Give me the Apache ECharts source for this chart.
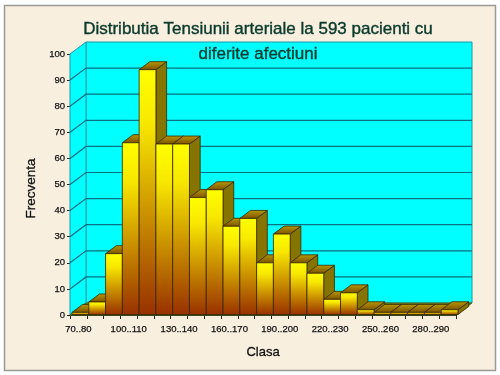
<!DOCTYPE html>
<html><head><meta charset="utf-8">
<style>html,body{margin:0;padding:0;background:#fff}#c{width:500px;height:375px}</style>
<script src="https://cdn.jsdelivr.net/npm/echarts@6/dist/echarts.min.js"></script>
</head><body><div id="c"></div>
<script>
const categories = ['70..80','80..90','90..100','100..110','110..120','120..130','130..140','140..150','150..160','160..170','170..180','180..190','190..200','200..210','210..220','220..230','230..240','240..250','250..260','260..270','270..280','280..290','290..300'];
const frequencies = [1,5,23.5,66,94,65.5,65.5,45,48,34,37,20,31,20,16,6,8.5,2,1,1,1,1,2];
const yTicks = [0,10,20,30,40,50,60,70,80,90,100];
const titleLines = 'Distributia Tensiunii arteriale la 593 pacienti cu\ndiferite afectiuni';

const WALL_DX = 16, WALL_DY = 12, BAR_DX = 10.7, BAR_DY = 8, BAR_SHIFT = 2;
const chart = echarts.init(document.getElementById('c'), null, {renderer:'canvas'});

function poly(points, style){ return {type:'polygon', shape:{points}, style}; }

chart.setOption({
  animation:false,
  backgroundColor:'#ffffff',
  graphic:[
    {type:'rect', z:-10, shape:{x:4.5,y:5.5,width:491,height:365}, style:{fill:'#F8EFDF',stroke:'#9a9a94',lineWidth:1.5}}
  ],
  title:{
    text:titleLines, left:253, top:12, textAlign:'center', z:20,
    textStyle:{fontFamily:'Liberation Sans',fontSize:17,fontWeight:'normal',color:'#0A3A2C',lineHeight:25,textBorderColor:'#0A3A2C',textBorderWidth:0.4}
  },
  grid:{left:70,right:44,top:54,bottom:60},
  xAxis:{
    type:'category', data:categories, name:'Clasa', nameLocation:'middle', nameGap:31,
    nameTextStyle:{fontFamily:'Liberation Sans',fontSize:13,color:'#111',textBorderColor:'#111',textBorderWidth:0.3},
    axisLine:{show:true,lineStyle:{color:'#222',width:1}},
    axisTick:{show:true,interval:0,length:4,alignWithLabel:false,lineStyle:{color:'#222'}},
    axisLabel:{interval:2,margin:9,fontFamily:'Liberation Sans',fontSize:9.5,color:'#111',hideOverlap:false,textBorderColor:'#111',textBorderWidth:0.25},
    splitLine:{show:false}
  },
  yAxis:{
    type:'value', min:0, max:100, interval:10, name:'Frecventa', nameLocation:'middle', nameGap:24,
    nameTextStyle:{fontFamily:'Liberation Sans',fontSize:13.5,color:'#111',textBorderColor:'#111',textBorderWidth:0.3,padding:[0,8,0,0]},
    axisLine:{show:true,lineStyle:{color:'#222',width:1}},
    axisTick:{show:true,length:3,lineStyle:{color:'#222'}},
    axisLabel:{margin:5,fontFamily:'Liberation Sans',fontSize:9.5,color:'#111',textBorderColor:'#111',textBorderWidth:0.25},
    splitLine:{show:false}
  },
  series:[
    {type:'custom', z:1, silent:true, clip:false, data:[0], encode:{x:0,y:0},
     renderItem(params, api){
       const band = api.size([1,0])[0];
       const a = api.coord([0,0]), b = api.coord([categories.length-1,100]);
       const x0 = a[0]-band/2, x1 = b[0]+band/2, y0 = a[1], y1 = b[1];
       const fill = {fill:'#00FFFF', stroke:'#1a9aa8', lineWidth:1};
       return {type:'group', children:[
         poly([[x0+WALL_DX,y1-WALL_DY],[x1+WALL_DX,y1-WALL_DY],[x1+WALL_DX,y0-WALL_DY],[x0+WALL_DX,y0-WALL_DY]], fill),
         poly([[x0,y1],[x0+WALL_DX,y1-WALL_DY],[x0+WALL_DX,y0-WALL_DY],[x0,y0]], fill),
         poly([[x0,y0],[x0+WALL_DX,y0-WALL_DY],[x1+WALL_DX,y0-WALL_DY],[x1,y0]], {fill:'#7A7808',stroke:'#4a6a20',lineWidth:1})
       ]};
     }},
    {type:'custom', z:2, silent:true, clip:false, data:yTicks.slice(1,-1).map(v=>[0,v]), encode:{x:0,y:1},
     renderItem(params, api){
       const band = api.size([1,0])[0];
       const p = api.coord([0,api.value(1)]), q = api.coord([categories.length-1,api.value(1)]);
       const x0 = p[0]-band/2, x1 = q[0]+band/2, y = p[1];
       return {type:'polyline', shape:{points:[[x0,y],[x0+WALL_DX,y-WALL_DY],[x1+WALL_DX,y-WALL_DY]]},
               style:{fill:null,stroke:'#0A6F80',lineWidth:1.2}};
     }},
    {type:'custom', z:3, silent:true, clip:false, data:frequencies.map((v,i)=>[i,v]), encode:{x:0,y:1},
     renderItem(params, api){
       const band = api.size([1,0])[0];
       const top = api.coord([api.value(0),api.value(1)]), bot = api.coord([api.value(0),0]);
       const l = top[0]-band/2+BAR_SHIFT, r = top[0]+band/2+BAR_SHIFT, t = top[1], b = bot[1]-0.5;
       const line = '#3A2600';
       const front = new echarts.graphic.LinearGradient(0,0,0,1,[
         {offset:0,color:'#FFFF00'},{offset:0.22,color:'#F8E800'},{offset:1,color:'#983000'}]);
       const topFill = new echarts.graphic.LinearGradient(0,0,0,1,[
         {offset:0,color:'#B89A00'},{offset:1,color:'#7A5000'}]);
       return {type:'group', children:[
         poly([[r,t],[r+BAR_DX,t-BAR_DY],[r+BAR_DX,b-BAR_DY],[r,b]], {fill:'#857400',stroke:line,lineWidth:0.8}),
         poly([[l,t],[l+BAR_DX,t-BAR_DY],[r+BAR_DX,t-BAR_DY],[r,t]], {fill:topFill,stroke:line,lineWidth:0.8}),
         {type:'rect', shape:{x:l,y:t,width:r-l,height:b-t}, style:{fill:front,stroke:line,lineWidth:0.8}}
       ]};
     }}
  ]
});
</script></body></html>
